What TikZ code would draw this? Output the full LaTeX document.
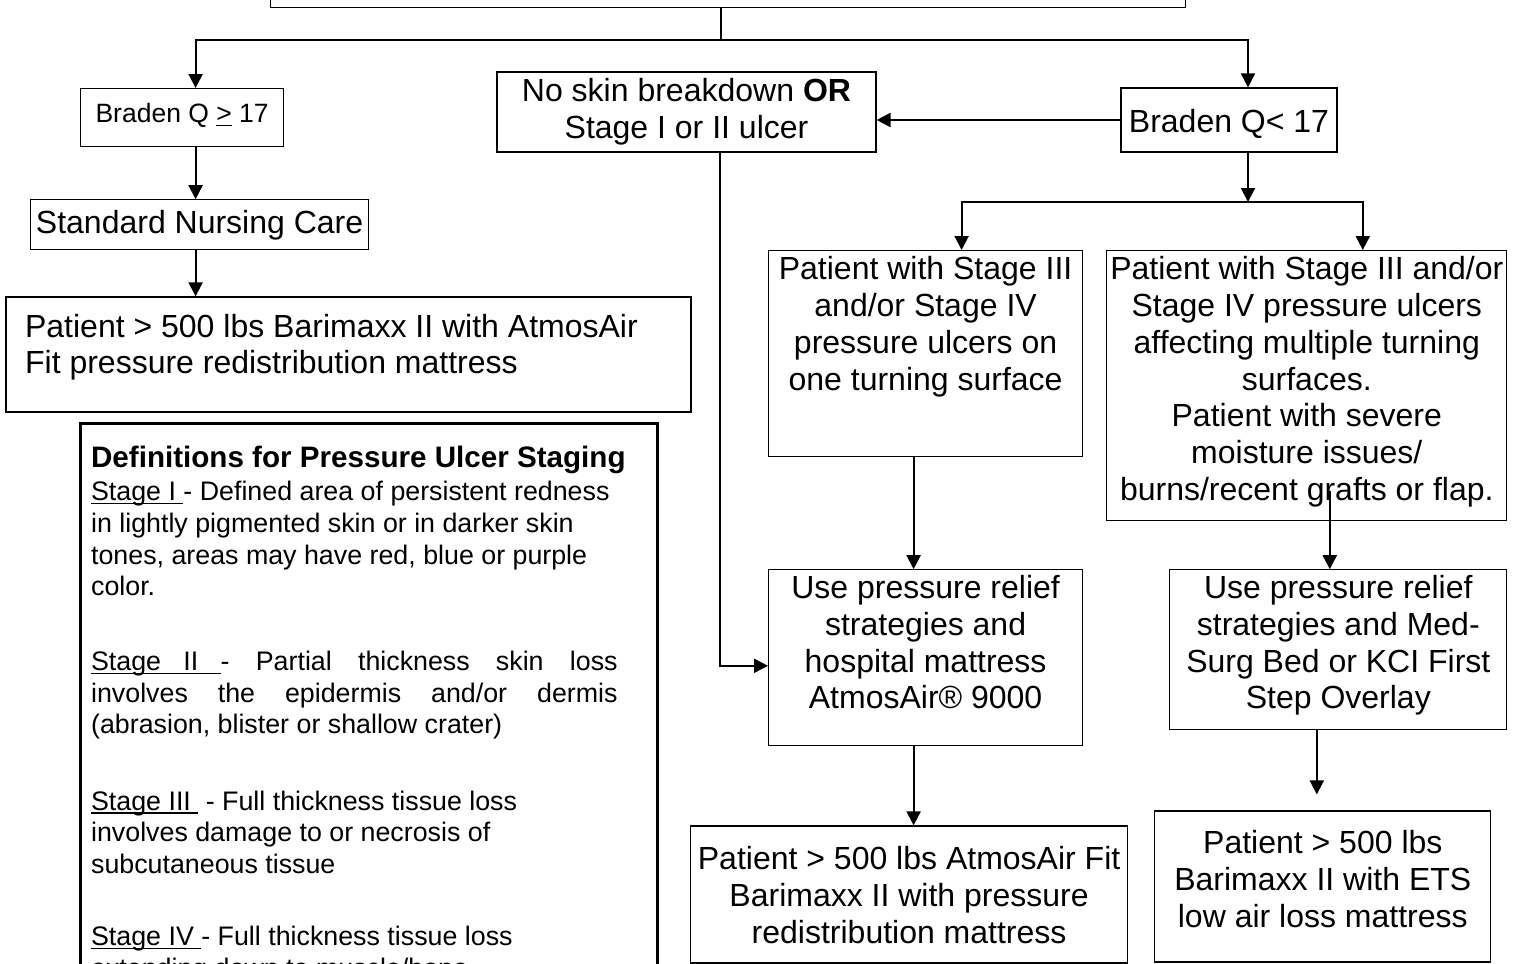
\documentclass[tikz,border=0pt]{standalone}
\usepackage{fontspec}
\setmainfont{Liberation Sans}
\usepackage{tikz}
\usetikzlibrary{positioning, arrows.meta}

\newcommand{\mainsize}{\fontsize{16pt}{18.4pt}\selectfont}
\newcommand{\defsize}{\fontsize{13.4pt}{15.85pt}\selectfont}
\newcommand{\headsize}{\fontsize{14.8pt}{17pt}\selectfont\bfseries}
\newcommand{\brsize}{\fontsize{13.25pt}{15.5pt}\selectfont}
% text held at the top of a box of fixed size
\newcommand{\toptext}[4]{\parbox[c][#1][t]{#2}{\centering\vspace*{#3}#4}}
\newcommand{\lefttext}[4]{\parbox[c][#1][t]{#2}{\raggedright\vspace*{#3}#4}}
\newcommand{\stageul}[1]{\leavevmode\setbox0=\hbox{#1}\rlap{\rule[-1.8pt]{\wd0}{0.7pt}}\box0\relax}

\begin{document}
\begin{tikzpicture}[
        x=0.5pt, y=-0.5pt,
        % Define styles for the components
        box/.style={rectangle, draw, line width=0.6pt, inner sep=0pt, font=\mainsize},
        widebox/.style={box, line width=1pt, inner xsep=9.75pt},
        defbox/.style={box, line width=1.4pt, inner xsep=5.25pt, font=\defsize},
        arrow/.style={line width=1pt, -{Triangle[length=7pt, width=7pt]}},
        link/.style={line width=1pt}
    ]
    \useasboundingbox (0,0) rectangle (1521,964);
    \clip (0,0) rectangle (1521,964);

    % Define nodes
    \node[box, anchor=south west, minimum width=457.5pt, minimum height=40pt] (topbox) at (270,8) {};
    \node[box, anchor=north west, font=\brsize] (bradenhi) at (80,88)
        {\toptext{29pt}{101.5pt}{7.5pt}{Braden Q \stageul{>} 17}};
    \node[box, align=center, minimum width=169pt, minimum height=25pt, below=26pt of bradenhi, xshift=8.75pt] (standard)
        {Standard Nursing Care};
    \node[widebox, below=23pt of standard, xshift=74.25pt] (lowbari)
        {\lefttext{57.5pt}{323pt}{8.25pt}{Patient > 500 lbs Barimaxx II with AtmosAir\\
         Fit pressure redistribution mattress}};
    \node[defbox, below=4.5pt of lowbari, xshift=10.5pt] (defs)
        {\lefttext{288.5pt}{278pt}{11.25pt}{%
         {\headsize Definitions for Pressure Ulcer Staging}\\[0.65pt]
         \stageul{Stage I }- Defined area of persistent redness\\
         in lightly pigmented skin or in darker skin\\
         tones, areas may have red, blue or purple\\
         color.\\[21.4pt]
         \makebox[263.25pt][s]{\stageul{Stage\ \ \ II\ \ \ }- Partial thickness skin loss}\\
         \makebox[263.25pt][s]{involves the epidermis and/or dermis}\\
         (abrasion, blister or shallow crater)\\[22.3pt]
         \stageul{Stage III } - Full thickness tissue loss\\
         involves damage to or necrosis of\\
         subcutaneous tissue\\[20.15pt]
         \stageul{Stage IV }- Full thickness tissue loss\\
         extending down to muscle/bone}};

    \node[box, align=center, minimum width=189.5pt, minimum height=40pt] (noskin) at (686.5,112)
        {No skin breakdown \textbf{OR}\\Stage I or II ulcer};
    \node[box, minimum width=108pt, minimum height=32pt, text height=14pt, text depth=2pt] (bradenlo) at (1229,120)
        {Braden Q< 17};

    \node[box, anchor=north west] (onesurf) at (768,250)
        {\toptext{103pt}{157pt}{3pt}{Patient with Stage III\\and/or Stage IV\\pressure ulcers on\\one turning surface}};
    \node[box, right=11.5pt of onesurf.north east, anchor=north west] (multisurf)
        {\toptext{135pt}{200pt}{3pt}{Patient with Stage III and/or\\Stage IV pressure ulcers\\affecting multiple turning\\surfaces.\\Patient with severe\\moisture issues/\\burns/recent grafts or flap.}};
    \node[box, below=56pt of onesurf] (relief1)
        {\toptext{88pt}{157pt}{2.75pt}{Use pressure relief\\strategies and\\hospital mattress\\AtmosAir® 9000}};
    \node[box, below=24pt of multisurf.south east, anchor=north east] (relief2)
        {\toptext{80pt}{168.5pt}{2.75pt}{Use pressure relief\\strategies and Med-\\Surg Bed or KCI First\\Step Overlay}};
    \node[box, below=39.5pt of relief1, xshift=-8.25pt] (bari1)
        {\toptext{68.5pt}{218.5pt}{10.25pt}{Patient > 500 lbs AtmosAir Fit\\Barimaxx II with pressure\\redistribution mattress}};
    \node[box, below=40pt of relief2, xshift=-7.75pt] (bari2)
        {\toptext{75.5pt}{168pt}{9.75pt}{Patient > 500 lbs\\Barimaxx II with ETS\\low air loss mattress}};

    \coordinate (split) at (721,40);
    \coordinate (fork) at (1248,202);

    % Draw arrows
    \draw[link] (topbox.south -| split) -- (split);
    \draw[arrow] (split) -| ([xshift=6.75pt]bradenhi.north);
    \draw[arrow] (split) -| ([xshift=9.5pt]bradenlo.north);
    \draw[arrow] ([xshift=6.75pt]bradenhi.south) -- ([xshift=6.75pt]bradenhi.south |- standard.north);
    \draw[arrow] ([xshift=-2pt]standard.south) -- ([xshift=-2pt]standard.south |- lowbari.north);
    \draw[arrow] (bradenlo.west) -- (bradenlo.west -| noskin.east);
    \draw[arrow] ([xshift=16.75pt]noskin.south) |- ([yshift=-4pt]relief1.west);
    \draw[arrow] ([xshift=9.5pt]bradenlo.south) -- (fork);
    \draw[arrow] (fork) -| ([xshift=18pt]onesurf.north);
    \draw[arrow] (fork) -| ([xshift=28pt]multisurf.north);
    \draw[arrow] ([xshift=-6pt]onesurf.south) -- ([xshift=-6pt]relief1.north);
    \draw[arrow] ([xshift=11.5pt, yshift=15pt]multisurf.south) -- ([xshift=11.5pt]multisurf.south |- relief2.north);
    \draw[arrow] ([xshift=-6pt]relief1.south) -- ([xshift=-6pt]relief1.south |- bari1.north);
    \draw[arrow, shorten >=8pt] ([xshift=-10.75pt]relief2.south) -- ([xshift=-10.75pt]relief2.south |- bari2.north);
\end{tikzpicture}
\end{document}
